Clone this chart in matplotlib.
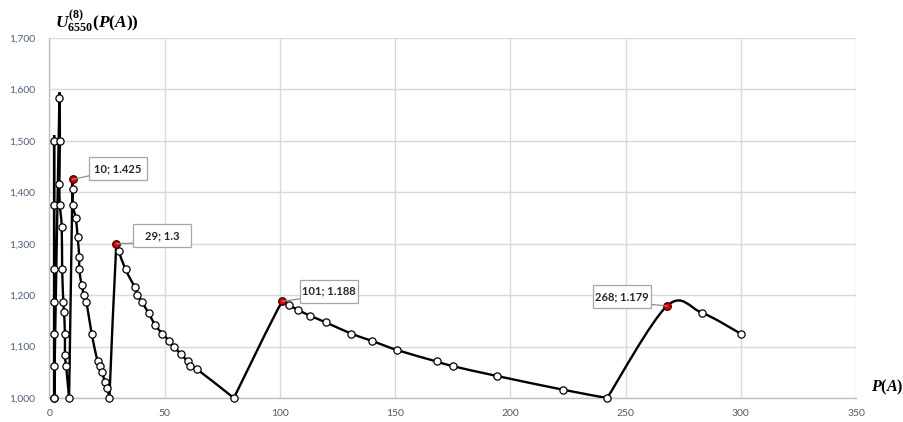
import numpy as np
import matplotlib
matplotlib.use("Agg")
import matplotlib.pyplot as plt
from matplotlib.path import Path
from matplotlib.patches import PathPatch, Rectangle
from matplotlib.lines import Line2D
from matplotlib.transforms import IdentityTransform

# series values (in drawing order)
p_vals = [2, 2, 2, 2, 2, 2, 2, 2,
          4.3, 4.5, 4.3, 4.5, 5.3, 5.5, 6, 6.3, 6.7, 6.7, 7.2, 8.5,
          10, 10, 10, 11.4, 12.2, 12.9, 12.9, 14, 15, 16, 18.3, 20.9, 21.9, 22.9, 24, 25, 26,
          29, 30, 33, 37, 38, 40, 43, 46, 49, 52, 54, 57, 60, 61, 64, 80,
          101, 104, 108, 113, 120, 131, 140, 151, 168, 175, 194, 223, 242,
          268, 283, 300]
u_vals = [1.0, 1.5, 1.375, 1.25, 1.1875, 1.125, 1.0625, 1.0,
          1.583, 1.5, 1.417, 1.375, 1.333, 1.25, 1.1875, 1.167, 1.125, 1.083, 1.0625, 1.0,
          1.425, 1.406, 1.375, 1.35, 1.3125, 1.275, 1.25, 1.219, 1.2, 1.1875, 1.125, 1.071, 1.0625, 1.05, 1.031, 1.019, 1.0,
          1.3, 1.286, 1.25, 1.215, 1.2, 1.1875, 1.165, 1.141, 1.125, 1.111, 1.1, 1.085, 1.071, 1.0625, 1.056, 1.0,
          1.188, 1.18, 1.171, 1.16, 1.147, 1.125, 1.111, 1.093, 1.071, 1.062, 1.043, 1.016, 1.0,
          1.179, 1.166, 1.125]

# highlighted points
peak_x = [10, 29, 101, 268]
peak_y = [1.425, 1.3, 1.188, 1.179]

x_ticks = [0, 50, 100, 150, 200, 250, 300, 350]
y_ticks = [1.0, 1.1, 1.2, 1.3, 1.4, 1.5, 1.6, 1.7]
y_tick_labels = ['1,000', '1,100', '1,200', '1,300', '1,400', '1,500', '1,600', '1,700']

plt.rcParams['mathtext.fontset'] = 'custom'
plt.rcParams['mathtext.it'] = 'Liberation Serif:italic:bold'
plt.rcParams['mathtext.rm'] = 'Liberation Serif:bold'
plt.rcParams['mathtext.bf'] = 'Liberation Serif:bold'


def smooth_verts(pts):
    # Excel-like smoothed line: cubic bezier segments built in pixel space
    n = len(pts)
    verts = [pts[0]]
    for i in range(n - 1):
        p0 = pts[max(i - 1, 0)]
        p1 = pts[i]
        p2 = pts[i + 1]
        p3 = pts[min(i + 2, n - 1)]
        d01 = np.hypot(*(p1 - p0))
        d12 = np.hypot(*(p2 - p1))
        d23 = np.hypot(*(p3 - p2))
        f1 = min(1.0, 4 * d12 / (d01 + d12)) if d01 + d12 > 0 else 0.0
        f2 = min(1.0, 4 * d12 / (d12 + d23)) if d12 + d23 > 0 else 0.0
        c1 = p1 + (p2 - p0) / 6 * f1
        c2 = p2 - (p3 - p1) / 6 * f2
        verts += [c1, c2, p2]
    return verts


def smooth_path(ax, xs, ys):
    # the curve restarts at every point that sits on the 1,000 floor
    pts = ax.transData.transform(np.column_stack([xs, ys]))
    floor = min(ys)
    cuts = [0] + [i for i in range(1, len(ys) - 1) if ys[i] == floor] + [len(ys) - 1]
    verts, codes = [], []
    for a, b in zip(cuts[:-1], cuts[1:]):
        part = smooth_verts(pts[a:b + 1])
        verts += part
        codes += [Path.MOVETO] + [Path.CURVE4] * (len(part) - 1)
    data = ax.transData.inverted().transform(np.array(verts))
    return Path(data, codes)


fig = plt.figure(figsize=(9.04, 4.22), dpi=100)
ax = fig.add_axes([49.5 / 904, 24 / 422, 806.5 / 904, 360 / 422])
ax.set_xlim(0, 350)
ax.set_ylim(1.0, 1.7)

ax.set_xticks(x_ticks)
ax.set_yticks(y_ticks)
ax.set_yticklabels(y_tick_labels)
ax.grid(True, color='#d9d9d9', linewidth=1)
ax.set_axisbelow(True)
ax.tick_params(length=0)
ax.tick_params(axis='y', pad=10, labelsize=7.5, labelcolor='#52607c')
ax.tick_params(axis='x', pad=8, labelsize=7.5, labelcolor='#595959')
for lab in ax.get_xticklabels() + ax.get_yticklabels():
    lab.set_family('Lato')
for side in ['top', 'right']:
    ax.spines[side].set_visible(False)
for side in ['left', 'bottom']:
    ax.spines[side].set_color('#bfbfbf')
    ax.spines[side].set_linewidth(1)

# smoothed black line, clipped to the plot area like the original
ax.add_patch(PathPatch(smooth_path(ax, p_vals, u_vals), facecolor='none',
                       edgecolor='black', linewidth=1.7, zorder=3))
ax.plot(p_vals, u_vals, linestyle='none', marker='o', markersize=5.2,
        markerfacecolor='white', markeredgecolor='black', markeredgewidth=0.9,
        zorder=4, clip_on=False)
ax.plot(peak_x, peak_y, linestyle='none', marker='o', markersize=5.2,
        markerfacecolor='#e00000', markeredgecolor='#5a0000', markeredgewidth=0.9,
        zorder=5, clip_on=False)

# data labels: fixed-size boxes placed in pixels next to the red points
offsets = [(45, 11), (46, 8), (47, 10), (-45, 9)]
box_w, box_h = 58, 23
for px, py, (dx, dy) in zip(peak_x, peak_y, offsets):
    ptx, pty = ax.transData.transform((px, py))
    cx, cy = ptx + dx, pty + dy
    x0, y0 = cx - box_w / 2, cy - box_h / 2
    lx = min(max(ptx, x0), x0 + box_w)
    ly = min(max(pty, y0 + 4), y0 + box_h - 4)
    fig.add_artist(Line2D([ptx, lx], [pty, ly], color='#8c8c8c', linewidth=0.9,
                          transform=IdentityTransform(), zorder=6))
    fig.add_artist(Rectangle((x0, y0), box_w, box_h, facecolor='white',
                             edgecolor='#a6a6a6', linewidth=0.9,
                             transform=IdentityTransform(), zorder=7))
    fig.text(cx / 904, cy / 422, f'{px}; {py}', ha='center', va='center',
             fontsize=8, fontweight='bold', family='Lato', color='#262626', zorder=8)

# axis titles
fig.text(55 / 904, 1 - 21 / 422, r'$U^{(8)}_{6550}(P(A))$', fontsize=12.5,
         ha='left', va='center')
fig.text(887 / 904, 1 - 387 / 422, r'$P(A)$', fontsize=11.5,
         ha='center', va='center')

fig.savefig('out.png', dpi=100)
